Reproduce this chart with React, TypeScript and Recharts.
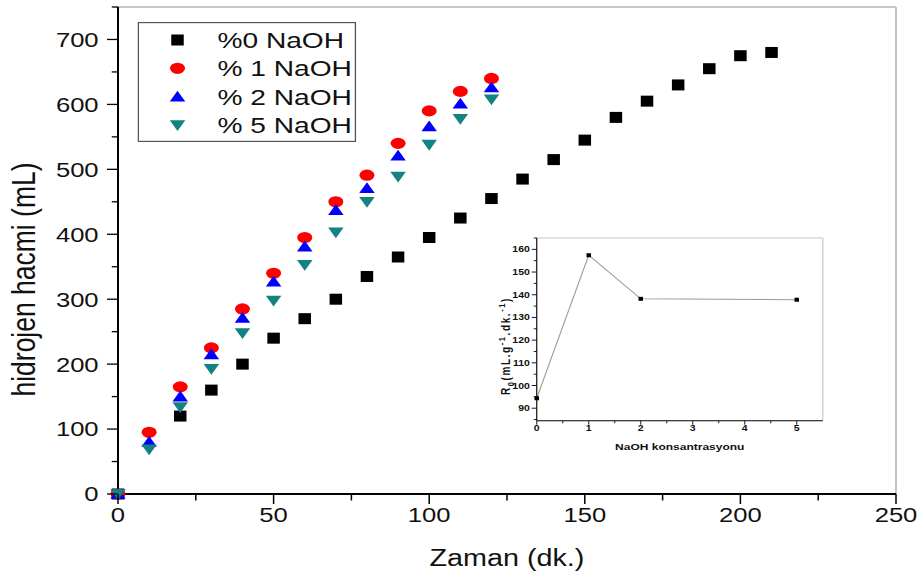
import React from 'react';
import {
  ScatterChart,
  Scatter,
  XAxis,
  YAxis,
  ReferenceLine,
  Legend,
  LineChart,
  Line,
  Label,
} from 'recharts';

const FONT = '"Liberation Sans", Arial, Helvetica, sans-serif';
const STRETCH = 1.25;
const W = 737;
const H = 578;

// ---------- data ----------
const timeColored = [0, 10, 20, 30, 40, 50, 60, 70, 80, 90, 100, 110, 120];
const timeBlack = [0, 20, 30, 40, 50, 60, 70, 80, 90, 100, 110, 120, 130, 140, 150, 160, 170, 180, 190, 200, 210];
const naoh0 = [0, 120, 160, 200, 240, 270, 300, 335, 365, 395, 425, 455, 485, 515, 545, 580, 605, 630, 655, 675, 680];
const naoh1 = [0, 95, 165, 225, 285, 340, 395, 450, 491, 540, 590, 620, 640];
const naoh2 = [0, 80, 150, 215, 271, 327, 381, 437, 471, 521, 566, 601, 626];
const naoh5 = [0, 69, 134, 193, 248, 298, 353, 403, 450, 489, 538, 578, 608];

const seriesNames = ['%0 NaOH', '% 1 NaOH', '% 2 NaOH', '% 5 NaOH'];
const seriesColors = ['#000000', '#ff0000', '#0000ff', '#138282'];
const seriesShapes = ['square', 'circle', 'up', 'down'];

const xTicks = [0, 25, 50, 75, 100, 125, 150, 175, 200, 225, 250];
const yTicks = [0, 50, 100, 150, 200, 250, 300, 350, 400, 450, 500, 550, 600, 650, 700, 750];

const insetConc = [0, 1, 2, 5];
const insetRate = [94.4, 157.4, 138.2, 137.8];
const insetXTicks = [0, 0.5, 1, 1.5, 2, 2.5, 3, 3.5, 4, 4.5, 5];
const insetYTicks = [85, 90, 95, 100, 105, 110, 115, 120, 125, 130, 135, 140, 145, 150, 155, 160, 165];

const toPoints = (xs: number[], ys: number[]) => ys.map((y, i) => ({ x: xs[i], y }));
const seriesData = [
  toPoints(timeBlack, naoh0),
  toPoints(timeColored, naoh1),
  toPoints(timeColored, naoh2),
  toPoints(timeColored, naoh5),
];
const insetData = insetConc.map((c, i) => ({ c, r: insetRate[i] }));

// ---------- markers ----------
function Marker({ kind, cx, cy, color }: { kind: string; cx: number; cy: number; color: string }) {
  if (cx == null || cy == null) return null;
  switch (kind) {
    case 'square':
      return <rect x={cx - 5} y={cy - 5.5} width={10} height={11} fill={color} />;
    case 'circle':
      return <ellipse cx={cx} cy={cy} rx={6} ry={5.6} fill={color} />;
    case 'up':
      return <polygon points={`${cx - 6.2},${cy + 4.8} ${cx + 6.2},${cy + 4.8} ${cx},${cy - 6}`} fill={color} />;
    default:
      return <polygon points={`${cx - 6.2},${cy - 4.8} ${cx + 6.2},${cy - 4.8} ${cx},${cy + 6}`} fill={color} />;
  }
}

// ---------- main axes ticks ----------
const MainYTick = (p: any) => {
  const v = p.payload.value;
  const major = v % 100 === 0 && v <= 700;
  const len = major ? 8.8 : 5;
  return (
    <g>
      <line x1={p.x - len} x2={p.x} y1={p.y} y2={p.y} stroke="#000" strokeWidth={1.3} />
      {major && (
        <text x={p.x - 15.5} y={p.y} dy="0.36em" textAnchor="end" fontSize={20.5} fontFamily={FONT} fill="#111">
          {v}
        </text>
      )}
    </g>
  );
};

const MainXTick = (p: any) => {
  const v = p.payload.value;
  const major = v % 50 === 0;
  const len = major ? 10 : 6.5;
  return (
    <g>
      <line x1={p.x} x2={p.x} y1={p.y} y2={p.y + len} stroke="#000" strokeWidth={1.2} />
      {major && (
        <text x={p.x} y={p.y + 21} dy="0.36em" textAnchor="middle" fontSize={20.5} fontFamily={FONT} fill="#111">
          {v}
        </text>
      )}
    </g>
  );
};

const InsetYTick = (p: any) => {
  const v = p.payload.value;
  const major = v % 10 === 0 && v <= 160;
  const len = major ? 4 : 2.4;
  return (
    <g>
      <line x1={p.x - len} x2={p.x} y1={p.y} y2={p.y} stroke="#000" strokeWidth={0.8} />
      {major && (
        <text x={p.x - 5.5} y={p.y} dy="0.36em" textAnchor="end" fontSize={8.4} fontWeight="bold" fontFamily={FONT} fill="#111">
          {v}
        </text>
      )}
    </g>
  );
};

const InsetXTick = (p: any) => {
  const v = p.payload.value;
  const major = Number.isInteger(v);
  const len = major ? 4 : 2.6;
  return (
    <g>
      <line x1={p.x} x2={p.x} y1={p.y} y2={p.y + len} stroke="#000" strokeWidth={0.8} />
      {major && (
        <text x={p.x} y={p.y + 7.5} dy="0.36em" textAnchor="middle" fontSize={8.4} fontWeight="bold" fontFamily={FONT} fill="#111">
          {v}
        </text>
      )}
    </g>
  );
};

// ---------- labels ----------
const XMainLabel = (p: any) => {
  const vb = p.viewBox;
  return (
    <text x={vb.x + vb.width / 2} y={566.5} textAnchor="middle" fontSize={23} fontFamily={FONT} fill="#111">
      Zaman (dk.)
    </text>
  );
};

const YMainLabel = () => {
  const cx = 18.8;
  const cy = 279.5;
  return (
    <text
      x={cx}
      y={cy}
      dy="0.36em"
      textAnchor="middle"
      fontSize={26.5}
      fontFamily={FONT}
      fill="#111"
      transform={`rotate(-90, ${cx}, ${cy})`}
    >
      hidrojen hacmi (mL)
    </text>
  );
};

// inset chart is placed at left 380, top 230 -> local coordinates
const INSET_LEFT = 380;
const INSET_TOP = 230;

const XInsetLabel = (p: any) => {
  const vb = p.viewBox;
  return (
    <text x={vb.x + vb.width / 2} y={450 - INSET_TOP} textAnchor="middle" fontSize={9.6} fontWeight="bold" fontFamily={FONT} fill="#111">
      NaOH konsantrasyonu
    </text>
  );
};

const YInsetLabel = () => {
  const cx = 404.8 - INSET_LEFT;
  const cy = 346 - INSET_TOP;
  return (
    <text
      x={cx}
      y={cy}
      dy="0.36em"
      textAnchor="middle"
      fontSize={10}
      fontWeight="bold"
      letterSpacing={1.6}
      fontFamily={FONT}
      fill="#111"
      transform={`rotate(-90, ${cx}, ${cy})`}
    >
      R<tspan fontSize={7.5} dy={3}>0</tspan>
      <tspan dy={-3}>(mL.g</tspan>
      <tspan fontSize={7.5} dy={-4}>-1</tspan>
      <tspan dy={4}>.dk.</tspan>
      <tspan fontSize={7.5} dy={-4}>-1</tspan>
      <tspan dy={4}>)</tspan>
    </text>
  );
};

// ---------- legend ----------
const legendRowsY = [18, 46.3, 74.7, 103];
const LegendBox = () => (
  <svg width={175} height={120} style={{ display: 'block' }}>
    <rect x={0.6} y={0.6} width={173.8} height={118.8} fill="#fff" stroke="#555" strokeWidth={1.2} />
    {seriesNames.map((name, i) => (
      <g key={name}>
        <Marker kind={seriesShapes[i]} cx={32} cy={legendRowsY[i]} color={seriesColors[i]} />
        <text x={64} y={legendRowsY[i] + 8} fontSize={22.5} fontFamily={FONT} fill="#111">
          {name}
        </text>
      </g>
    ))}
  </svg>
);

export default function App() {
  return (
    <div
      style={{
        position: 'absolute',
        left: 0,
        top: 0,
        width: W,
        height: H,
        transform: `scaleX(${STRETCH})`,
        transformOrigin: '0 0',
        background: '#fff',
      }}
    >
      <ScatterChart width={W} height={H} margin={{ top: 7, right: 20.2, bottom: 0, left: 0 }}>
        <XAxis
          type="number"
          dataKey="x"
          domain={[0, 250]}
          ticks={xTicks}
          interval={0}
          tick={MainXTick}
          tickLine={false}
          tickSize={0}
          tickMargin={0}
          height={84}
          axisLine={{ stroke: '#000', strokeWidth: 2 }}
        >
          <Label content={XMainLabel} />
        </XAxis>
        <YAxis
          type="number"
          dataKey="y"
          domain={[0, 750]}
          ticks={yTicks}
          interval={0}
          tick={MainYTick}
          tickLine={false}
          tickSize={0}
          tickMargin={0}
          width={94.4}
          axisLine={{ stroke: '#000', strokeWidth: 1.6 }}
        >
          <Label content={YMainLabel} />
        </YAxis>
        <ReferenceLine y={750} stroke="#b5b5b5" strokeWidth={1.5} />
        <ReferenceLine x={250} stroke="#b5b5b5" strokeWidth={1.3} />
        {seriesData.map((d, i) => (
          <Scatter
            key={seriesNames[i]}
            name={seriesNames[i]}
            data={d}
            fill={seriesColors[i]}
            isAnimationActive={false}
            shape={(p: any) => <Marker kind={seriesShapes[i]} cx={p.cx} cy={p.cy} color={seriesColors[i]} />}
          />
        ))}
        <Legend
          layout="vertical"
          align="center"
          verticalAlign="middle"
          content={LegendBox}
          wrapperStyle={{ left: 109.6, top: 22, width: 175, height: 120, margin: 0, padding: 0 }}
        />
      </ScatterChart>

      <div style={{ position: 'absolute', left: INSET_LEFT, top: INSET_TOP }}>
        <LineChart width={290} height={230} data={insetData} margin={{ top: 8, right: 11.8, bottom: 0, left: 0 }}>
          <XAxis
            type="number"
            dataKey="c"
            domain={[0, 5.5]}
            ticks={insetXTicks}
            interval={0}
            tick={InsetXTick}
            tickLine={false}
            tickSize={0}
            tickMargin={0}
            height={39.3}
            axisLine={{ stroke: '#000', strokeWidth: 1 }}
          >
            <Label content={XInsetLabel} />
          </XAxis>
          <YAxis
            type="number"
            domain={[84.5, 165]}
            ticks={insetYTicks}
            interval={0}
            tick={InsetYTick}
            tickLine={false}
            tickSize={0}
            tickMargin={0}
            width={49.4}
            allowDataOverflow
            axisLine={{ stroke: '#000', strokeWidth: 0.9 }}
          >
            <Label content={YInsetLabel} />
          </YAxis>
          <ReferenceLine y={165} stroke="#c8c8c8" strokeWidth={1} />
          <ReferenceLine x={5.5} stroke="#c8c8c8" strokeWidth={1} />
          <Line
            type="linear"
            dataKey="r"
            stroke="#9a9a9a"
            strokeWidth={0.9}
            isAnimationActive={false}
            dot={(p: any) => (
              <rect key={`d${p.index}`} x={p.cx - 1.8} y={p.cy - 2} width={3.6} height={4} fill="#000" />
            )}
            activeDot={false}
          />
        </LineChart>
      </div>
    </div>
  );
}
